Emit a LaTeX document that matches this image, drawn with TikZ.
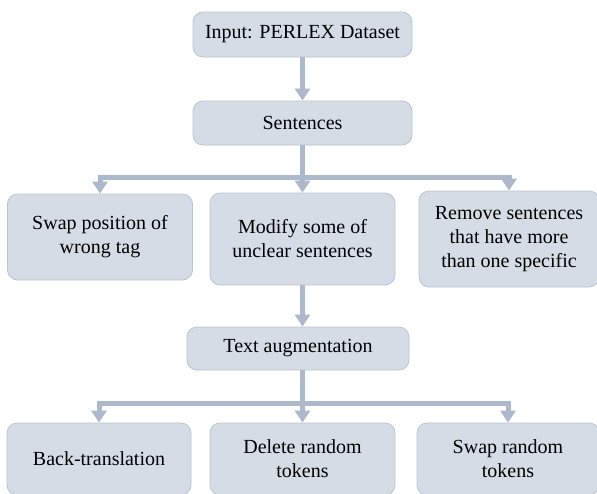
\documentclass[tikz,border=0pt]{standalone}
\usepackage{fontspec}
\setmainfont{Liberation Serif}
\usetikzlibrary{arrows.meta}

\definecolor{boxfill}{RGB}{214,220,229}
\definecolor{boxline}{RGB}{186,197,212}
\definecolor{flowcol}{RGB}{173,185,202}

\begin{document}
\begin{tikzpicture}[x=1pt,y=-1pt,
        box/.style={draw=boxline, fill=boxfill, line width=0.8pt, rounded corners=10pt,
            align=center, inner sep=0pt, font=\fontsize{20}{24}\selectfont},
        link/.style={draw=flowcol, line width=5pt},
        flow/.style={link, -{Triangle[width=15pt,length=12pt]}}]

        \def \mid {302.5}
        \def \splitA {177}
        \def \splitB {403}

        \clip (0,0) rectangle (597,493);

        % Draw boxes
        \def \drawbox#1#2#3#4#5#6{\node[box, minimum width=#4pt, minimum height=#5pt] (#1) at (#2,#3) {#6};}
        \drawbox{input}{\mid}{34.5}{219}{45}{Input: PERLEX Dataset}
        \drawbox{sent}{\mid}{123}{219}{44}{Sentences}
        \drawbox{swap}{100}{237}{185}{86}{Swap position of\\wrong tag}
        \drawbox{modify}{\mid}{239}{185}{92}{Modify some of\\unclear sentences}
        \drawbox{remove}{509}{239}{180}{96}{Remove sentences\\that have more\\than one specific}
        \drawbox{aug}{298}{348.5}{222}{43}{Text augmentation}
        \drawbox{back}{99}{459}{184}{72}{Back-translation}
        \drawbox{delete}{\mid}{459}{185}{72}{Delete random\\tokens}
        \drawbox{swaptok}{508}{459}{182}{72}{Swap random\\tokens}

        \coordinate (split-1) at (\mid, \splitA);
        \coordinate (split-2) at (\mid, \splitB);

        % Draw arrows
        \draw[flow] (input) -- (sent);
        \draw[link] (sent.south) -- (split-1);
        \foreach \t in {swap, modify, remove}
            \draw[flow] (split-1) -| (\t.north);
        \draw[flow] (modify.south) -- (modify.south |- aug.north);
        \draw[link] (aug.south -| split-2) -- (split-2);
        \foreach \t in {back, delete, swaptok}
            \draw[flow] (split-2) -| (\t.north);

    \end{tikzpicture}
\end{document}
